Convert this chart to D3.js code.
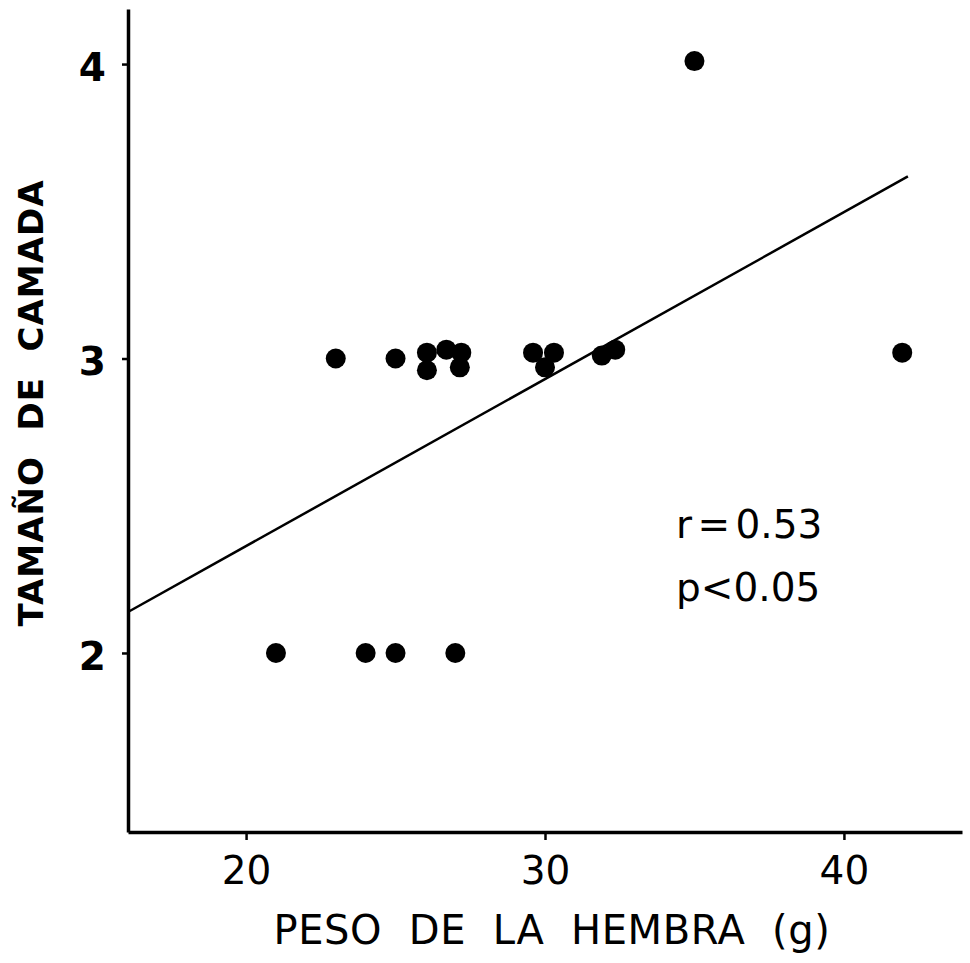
<!DOCTYPE html>
<html><head><meta charset="utf-8">
<script src="https://cdn.jsdelivr.net/npm/d3@7"></script>
<style>body{margin:0;background:#fff}svg{display:block}</style>
</head><body>
<script>
const pesoHembra = [21.0, 23.0, 24.0, 25.0, 25.0, 26.05, 26.05, 26.7, 27.2, 27.15, 27.0, 29.6, 30.3, 30.0, 31.9, 32.35, 35.0, 41.95];
const tamanoCamada = [2.0, 3.0, 2.0, 2.0, 3.0, 3.02, 2.96, 3.03, 3.02, 2.97, 2.0, 3.02, 3.02, 2.97, 3.01, 3.03, 4.01, 3.02];
const xTicks = [20, 30, 40];
const yTicks = [2, 3, 4];
const regression = { slope: 0.0567, intercept: 1.229, xStart: 16.05, xEnd: 42.14 };
const statsText = ["r = 0.53", "p<0.05"];

const W = 970, H = 963;
const svg = d3.select("body").append("svg").attr("width", W).attr("height", H);
const x = d3.scaleLinear().domain([16.05, 43.95]).range([128, 962]);
const y = d3.scaleLinear().domain([1.392, 4.187]).range([832, 9]);

const font = "'DejaVu Sans', sans-serif";

// axes
const xAxis = svg.append("g").attr("transform", "translate(0,832)")
  .call(d3.axisBottom(x).tickValues(xTicks).tickFormat(d3.format("d")).tickSize(8).tickPadding(16).tickSizeOuter(0));
const yAxis = svg.append("g").attr("transform", "translate(128,0)")
  .call(d3.axisLeft(y).tickValues(yTicks).tickFormat(d3.format("d")).tickSize(6).tickPadding(16).tickSizeOuter(0));
[xAxis, yAxis].forEach(g => {
  g.select(".domain").attr("stroke", "#000").attr("stroke-width", 3.5);
  g.selectAll(".tick line").attr("stroke", "#000").attr("stroke-width", 2.5);
  g.selectAll(".tick text").attr("fill", "#000").style("font-family", font)
    .style("font-size", "39px").style("font-weight", "normal");
});
yAxis.selectAll(".tick text").style("font-weight", "bold").attr("dy", "0.42em");

// regression line
svg.append("line")
  .attr("x1", x(regression.xStart)).attr("y1", y(regression.intercept + regression.slope * regression.xStart))
  .attr("x2", x(regression.xEnd)).attr("y2", y(regression.intercept + regression.slope * regression.xEnd))
  .attr("stroke", "#000").attr("stroke-width", 2.5);

// points
svg.append("g").selectAll("circle").data(pesoHembra.map((d, i) => [d, tamanoCamada[i]]))
  .join("circle").attr("cx", d => x(d[0])).attr("cy", d => y(d[1])).attr("r", 10).attr("fill", "#000");

// stats text
svg.append("g").selectAll("text").data(statsText).join("text")
  .attr("x", 676).attr("y", (d, i) => 538 + i * 63)
  .style("font-family", font).style("font-size", "39px").style("word-spacing", (d, i) => i === 0 ? "-7px" : "0px")
  .attr("fill", "#000")
  .text(d => d);

// axis titles
svg.append("text").attr("x", 552).attr("y", 944).attr("text-anchor", "middle")
  .style("font-family", font).style("font-size", "40px").style("letter-spacing", "0.6px")
  .style("white-space", "pre")
  .attr("fill", "#000").text("PESO  DE  LA  HEMBRA  (g)");

svg.append("text").attr("transform", "translate(43,403) rotate(-90)").attr("text-anchor", "middle")
  .style("font-family", font).style("font-size", "34px").style("font-weight", "bold").style("letter-spacing", "1px")
  .style("white-space", "pre")
  .attr("fill", "#000").text("TAMAÑO  DE  CAMADA");
</script>
</body></html>
